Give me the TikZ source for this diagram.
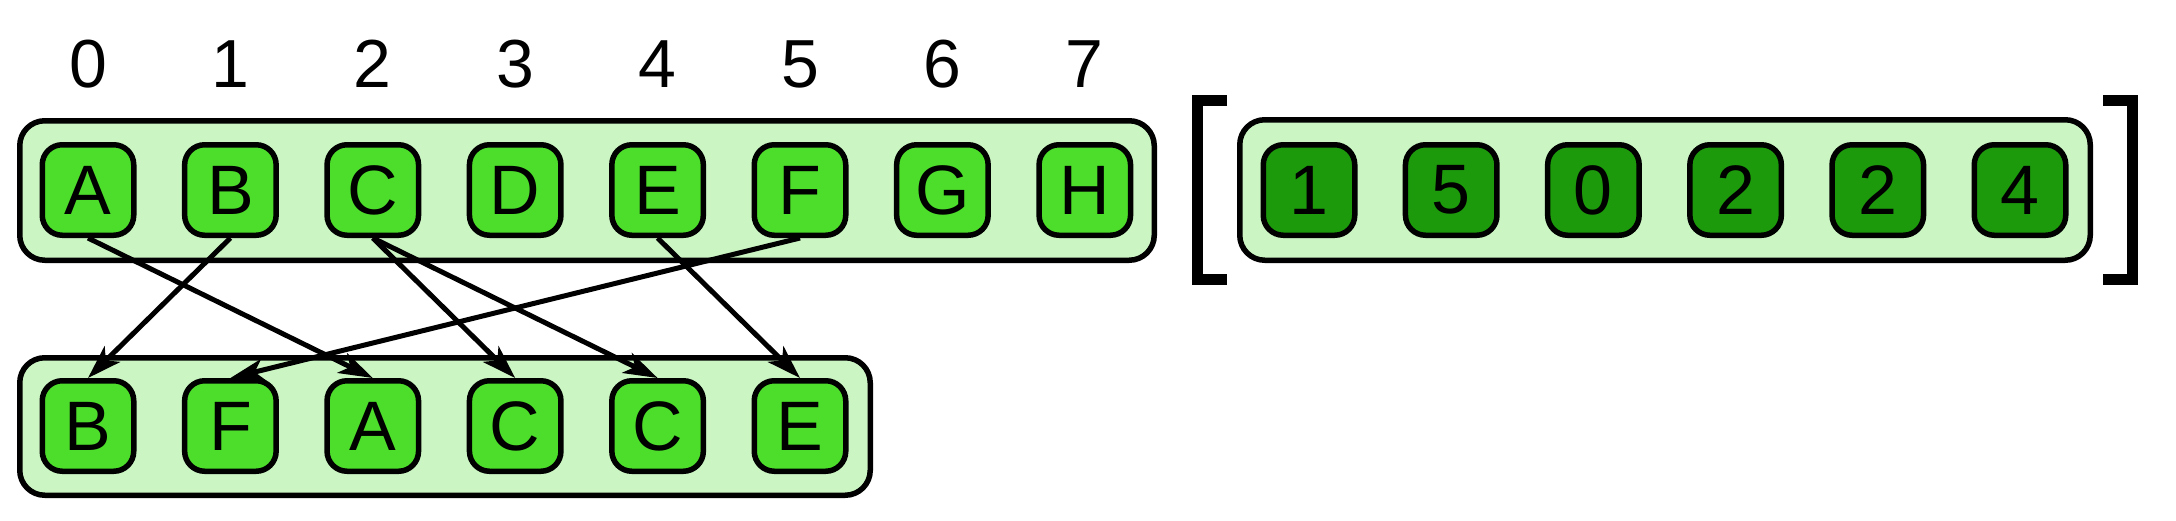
\documentclass[tikz,border=0pt]{standalone}
\usepackage{fontspec}
\setmainfont{Liberation Sans}
\usetikzlibrary{arrows.meta}
\definecolor{bggreen}{RGB}{204,245,196}
\definecolor{boxgreen}{RGB}{77,222,44}
\definecolor{darkgreen}{RGB}{28,154,12}
\begin{document}
\begin{tikzpicture}[x=1pt,y=-1pt,
  container/.style={draw=black,line width=5.5pt,fill=bggreen,rounded corners=25pt,inner sep=0pt,minimum width=#1},
  cell/.style={draw=black,line width=5.5pt,fill=boxgreen,rounded corners=20pt,inner sep=0pt,minimum width=91.5pt,minimum height=90.5pt,font=\fontsize{70}{84}\selectfont},
  darkcell/.style={cell,fill=darkgreen},
  idx/.style={inner sep=0pt,font=\fontsize{68}{80}\selectfont},
  bracket/.style={line width=11pt,line cap=butt,line join=miter},
  link/.style={line width=5pt,-{Stealth[length=34pt,width=22pt,inset=9pt]}}
]
\useasboundingbox (0,0) rectangle (2176,520);
% containers
\node[container=1134.5pt,minimum height=139.5pt] (top) at (587,190.5) {};
\node[container=850.5pt,minimum height=137.5pt] (bot) at (445,426.5) {};
\node[container=850.5pt,minimum height=140.5pt] (arr) at (1665,190) {};
% brackets
\coordinate (lb1) at (1227,100.5);
\coordinate (lb2) at (1197.5,100.5);
\coordinate (lb3) at (1197.5,279.5);
\coordinate (lb4) at (1227,279.5);
\draw[bracket] (lb1) -- (lb2) -- (lb3) -- (lb4);
\coordinate (rb1) at (2103,100.5);
\coordinate (rb2) at (2132,100.5);
\coordinate (rb3) at (2132,279.5);
\coordinate (rb4) at (2103,279.5);
\draw[bracket] (rb1) -- (rb2) -- (rb3) -- (rb4);
% top row and indices
\foreach \l [count=\i from 0] in {A,B,C,D,E,F,G,H}{
  \node[cell] (t\i) at ({88+142.4*\i},190) {\l};
  \node[idx] (n\i) at ({88+142.4*\i},64) {\i};
}
% bottom row
\foreach \l [count=\i from 0] in {B,F,A,C,C,E}{
  \node[cell] (b\i) at ({88+142.4*\i},426) {\l};
}
% index array
\foreach \l [count=\i from 0] in {1,5,0,2,2,4}{
  \node[darkcell] (d\i) at ({1309+142.2*\i},190) {\l};
}
% connectors
\draw[link] (t0.south) -- (b2.north);
\draw[link] (t1.south) -- (b0.north);
\draw[link] (t2.south) -- (b3.north);
\draw[link] (t2.south) -- (b4.north);
\draw[link] (t4.south) -- (b5.north);
\draw[link] (t5.south) -- (b1.north);
\end{tikzpicture}
\end{document}
